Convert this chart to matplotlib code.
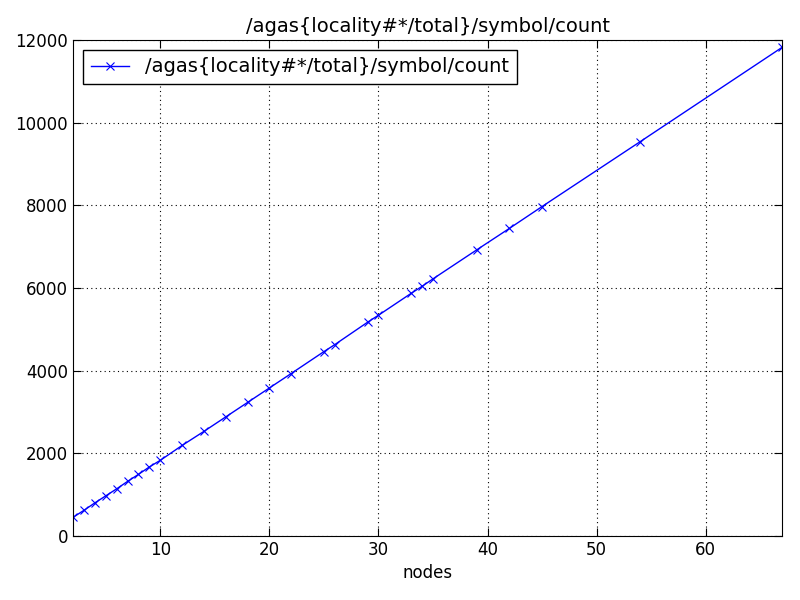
import matplotlib
matplotlib.use("Agg")
import matplotlib.pyplot as plt

nodes = [2, 3, 4, 5, 6, 7, 8, 9, 10, 12, 14, 16, 18, 20, 22, 25, 26, 29, 30, 33, 34, 35, 39, 42, 45, 54, 67]
counts = [450, 620, 800, 970, 1140, 1320, 1490, 1670, 1830, 2190, 2530, 2880, 3230, 3580, 3930, 4460, 4630,
          5170, 5340, 5870, 6040, 6220, 6920, 7440, 7970, 9540, 11820]
label = "/agas{locality#*/total}/symbol/count"

plt.rcParams.update({"font.size": 12, "xtick.direction": "in", "ytick.direction": "in",
                     "xtick.top": True, "ytick.right": True,
                     "xtick.major.size": 6, "ytick.major.size": 6})
fig = plt.figure(figsize=(8, 6), dpi=100)
ax = fig.add_axes([0.09125, 0.1067, 0.8863, 0.8267])
ax.plot(nodes, counts, color="blue", marker="x", markersize=6, markeredgewidth=0.8,
        linewidth=1, label=label)
ax.set_xlim(2, 67)
ax.set_ylim(0, 12000)
ax.set_xticks([10, 20, 30, 40, 50, 60])
ax.set_yticks(range(0, 12001, 2000))
ax.grid(True, color="black", linestyle=(0, (1, 3)), linewidth=0.8)
ax.set_xlabel("nodes")
ax.set_title(label, fontsize=14)
leg = ax.legend(loc="upper left", fancybox=False, framealpha=1, fontsize=14, edgecolor="black")
leg.get_frame().set_linewidth(1)
fig.savefig("out.png", dpi=100)
